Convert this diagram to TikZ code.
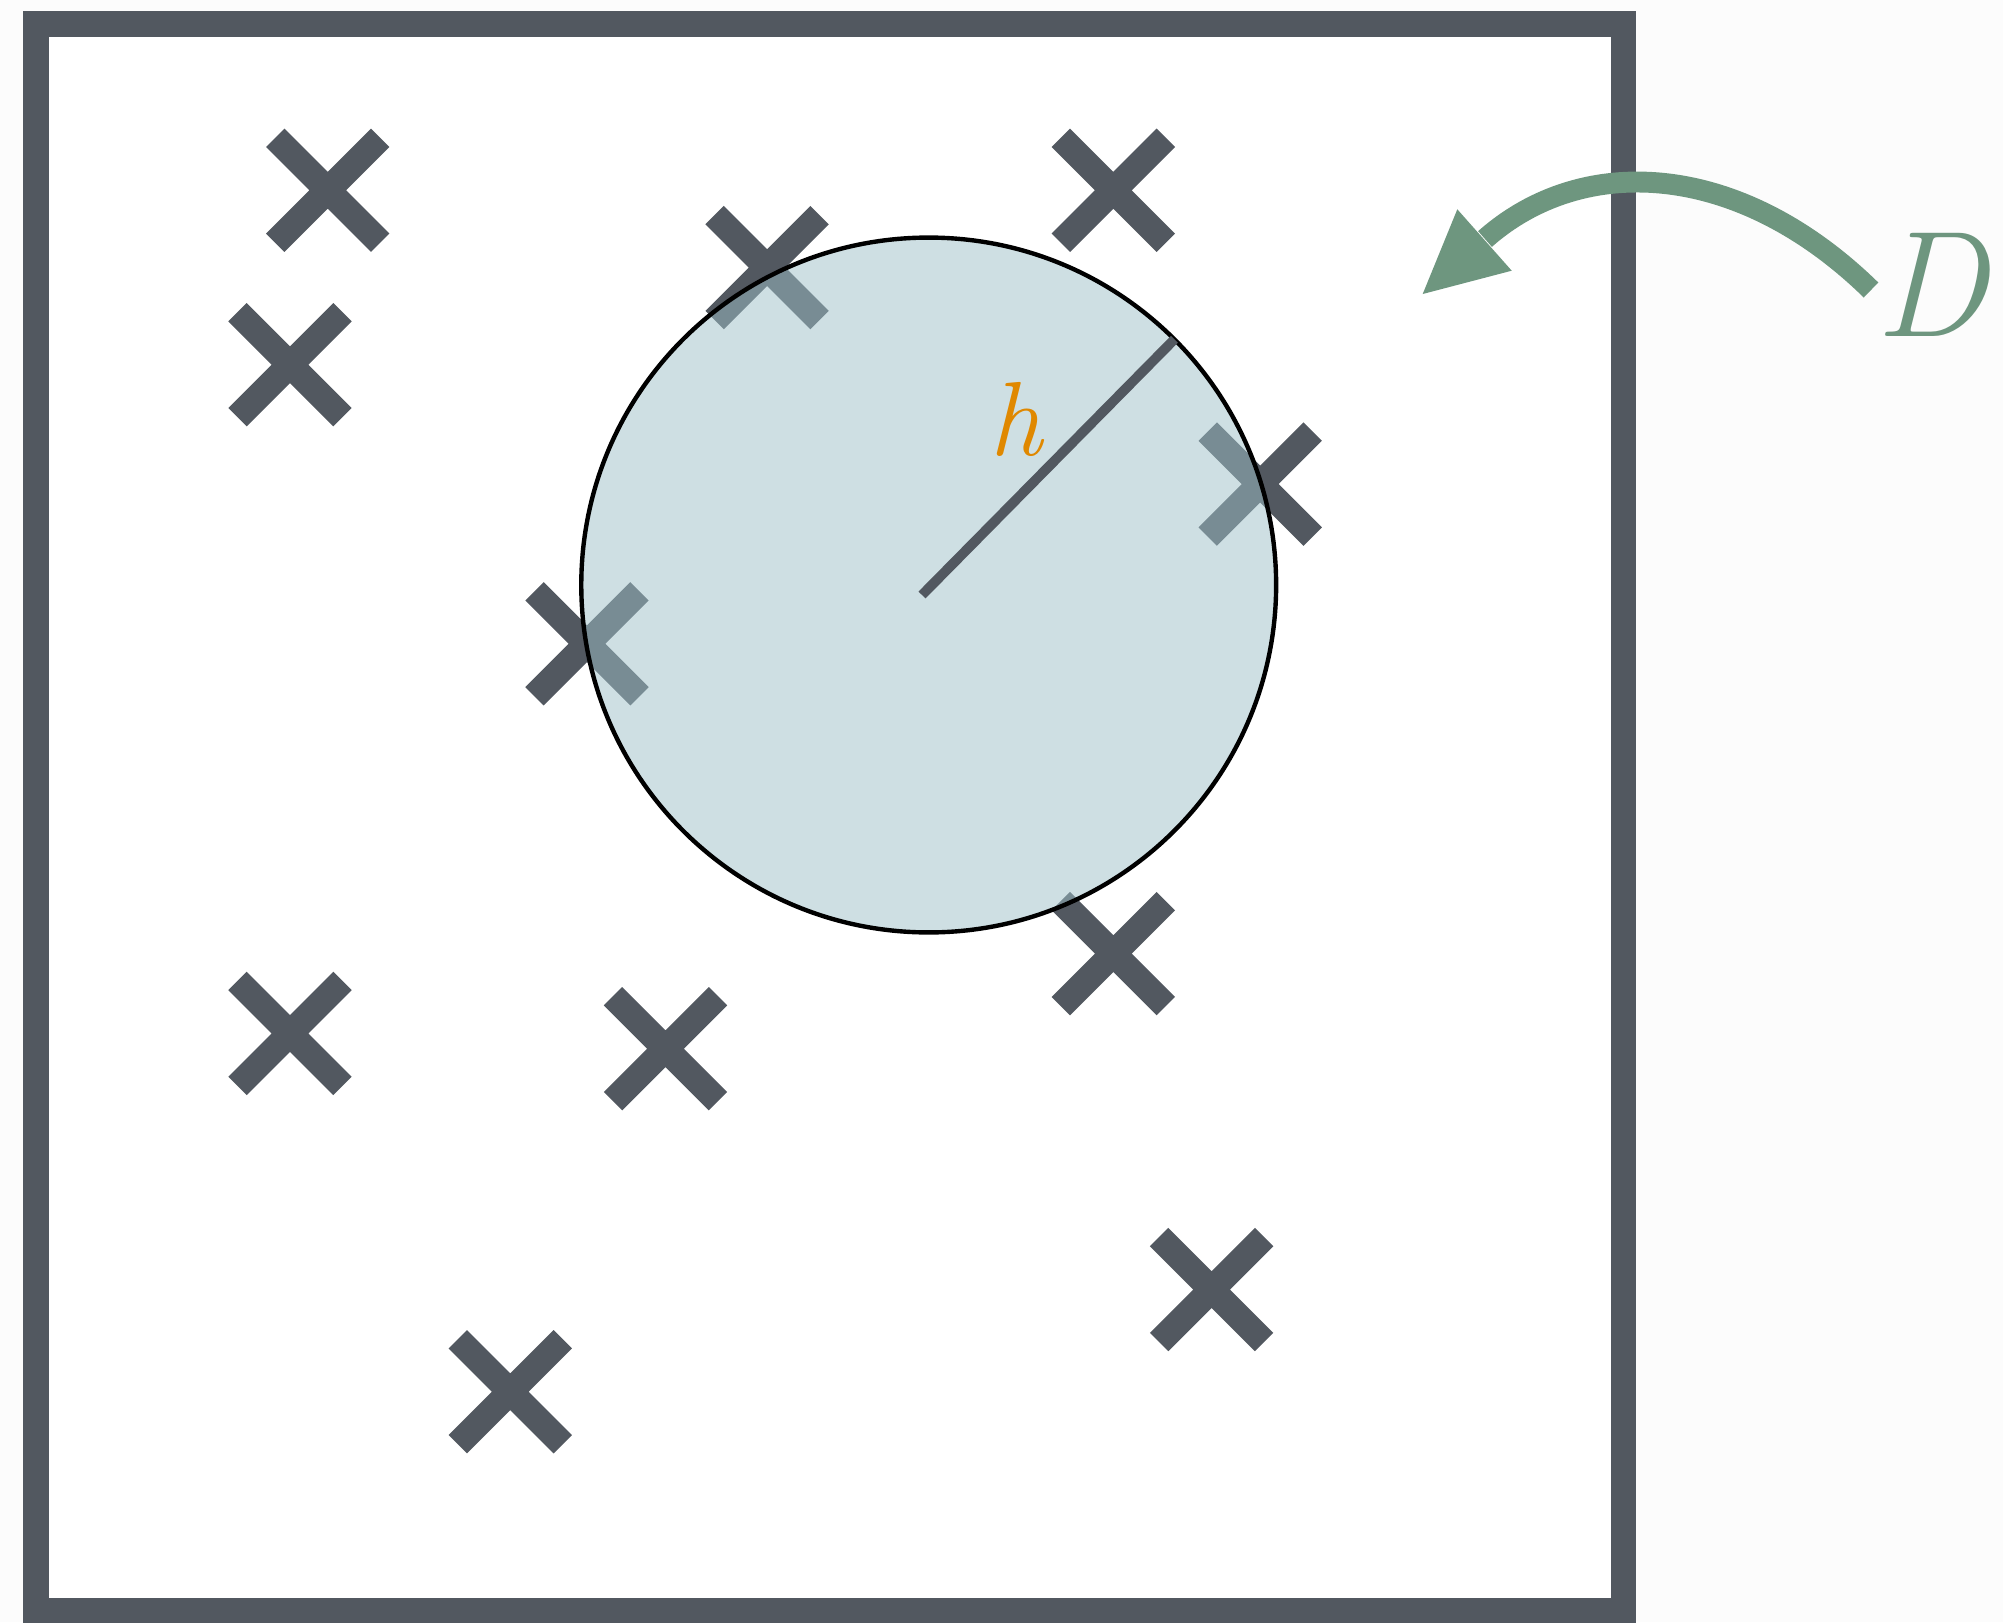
\documentclass[tikz,border=0pt]{standalone}
\usetikzlibrary{shapes.misc}

\definecolor{slate}{RGB}{82,88,96}
\definecolor{sage}{RGB}{110,150,127}
\definecolor{amber}{RGB}{224,136,0}
\definecolor{mist}{RGB}{159,193,201}
\definecolor{paper}{RGB}{252,252,252}

\tikzset{
    site/.style={cross out, draw=slate, line width=14.8pt, minimum size=2.1cm, inner sep=0pt, outer sep=0pt},
}

\begin{document}
\begin{tikzpicture}[x=0.02cm, y=-0.02cm]
    \useasboundingbox (0,0) rectangle (2003,1622);
    \fill[paper] (0,0) rectangle (2003,1622);

    % Domain box
    \filldraw[fill=white, draw=slate, line width=14.7pt] (36.3,24.3) rectangle (1623.5,1610.7);

    % Points
    \node[site] (p1) at (327.7,190.3) {};
    \node[site] (p2) at (290,364.7) {};
    \node[site] (p3) at (767.1,267.6) {};
    \node[site] (p4) at (1113.3,190.3) {};
    \node[site] (p5) at (1260.2,484.1) {};
    \node[site] (p6) at (587,643.8) {};
    \node[site] (p7) at (1113.3,953.6) {};
    \node[site] (p8) at (290,1033.4) {};
    \node[site] (p9) at (665.5,1048.7) {};
    \node[site] (p10) at (1211.6,1289.5) {};
    \node[site] (p11) at (510.3,1391.7) {};

    % Ball of radius h
    \node[circle, draw=black, line width=2.5pt, fill=mist, fill opacity=0.5,
          minimum size=13.9cm, inner sep=0pt, outer sep=0pt] (disk) at (928.7,585) {};
    \coordinate (r0) at (922,595);
    \draw[slate, line width=5.6pt] (r0) -- (disk.45);
    \node[text=amber, font=\fontsize{60}{60}\selectfont\itshape] (hlab) at (1016,419.6) {h};

    % Arrow and D
    \coordinate (a0) at (1871,290);
    \coordinate (a1) at (1485,239);
    \coordinate (tip) at (1422.7,294);
    \coordinate (hl) at (1457.3,209.3);
    \coordinate (hr) at (1511.7,270.7);
    \draw[sage, line width=11.9pt] (a0) .. controls (1738,160) and (1582,153) .. (a1);
    \fill[sage] (tip) -- (hl) -- (hr) -- cycle;
    \node[text=sage, font=\fontsize{86}{86}\selectfont\itshape] (dlab) at (1931,284.9) {D};
\end{tikzpicture}
\end{document}
